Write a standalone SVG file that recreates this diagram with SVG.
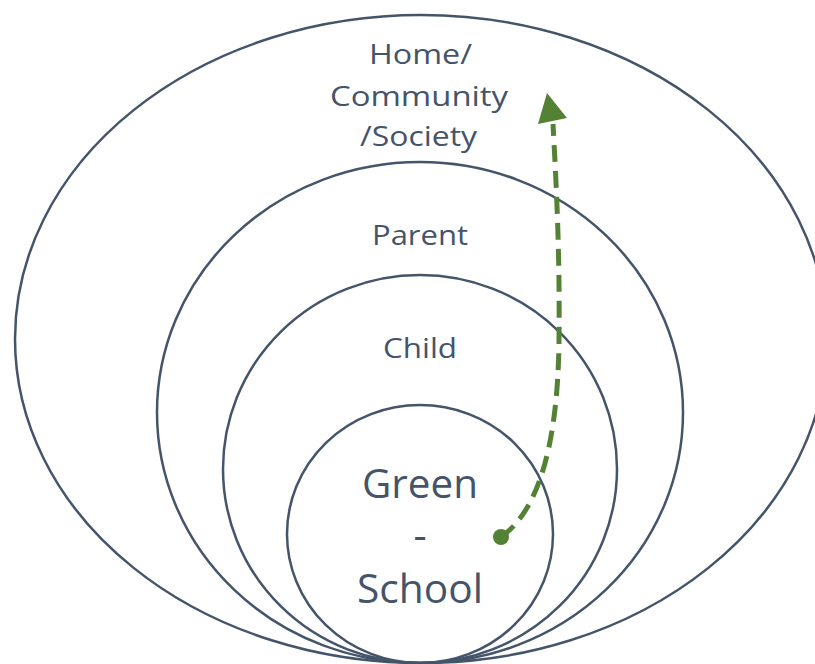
<svg xmlns="http://www.w3.org/2000/svg" width="815" height="664" viewBox="0 0 815 664">
  <style>
    .ring { fill: none; stroke: #44546A; stroke-width: 2.5; }
    .lbl { fill: #44546A; font-family: "Open Sans", "Liberation Sans", sans-serif; text-anchor: middle; }
    .sm { font-size: 27px; }
    .lg { font-size: 41px; }
    .arrow { fill: none; stroke: #548235; stroke-width: 5; stroke-dasharray: 17 9; }
    .green { fill: #548235; }
  </style>
  <rect width="815" height="664" fill="#ffffff"/>
  <g id="home">
    <ellipse class="ring" cx="421" cy="339" rx="406" ry="324"/>
    <text class="lbl sm" x="420.5" y="64" textLength="103" lengthAdjust="spacingAndGlyphs">Home/</text>
    <text class="lbl sm" x="419" y="106" textLength="178" lengthAdjust="spacingAndGlyphs">Community</text>
    <text class="lbl sm" x="418.5" y="146" textLength="117" lengthAdjust="spacingAndGlyphs">/Society</text>
  </g>
  <g id="parent">
    <ellipse class="ring" cx="420" cy="412.5" rx="263" ry="250.5"/>
    <text class="lbl sm" x="420" y="245" textLength="96" lengthAdjust="spacingAndGlyphs">Parent</text>
  </g>
  <g id="child">
    <ellipse class="ring" cx="420" cy="469" rx="197" ry="194"/>
    <text class="lbl sm" x="420" y="358" textLength="74" lengthAdjust="spacingAndGlyphs">Child</text>
  </g>
  <g id="green-school">
    <ellipse class="ring" cx="420" cy="534" rx="133" ry="129"/>
    <text class="lbl lg" x="420" y="498" textLength="116" lengthAdjust="spacingAndGlyphs">Green</text>
    <text class="lbl lg" x="420" y="549">-</text>
    <text class="lbl lg" x="420" y="603" textLength="126" lengthAdjust="spacingAndGlyphs">School</text>
  </g>
  <g id="connectors">
    <path class="arrow" d="M 501 537 C 540 510, 558 440, 559 340 C 560 250, 556 180, 553 124"/>
    <circle class="green" cx="501" cy="537" r="8"/>
    <polygon class="green" points="547,93 538,124 567,118"/>
  </g>
</svg>
